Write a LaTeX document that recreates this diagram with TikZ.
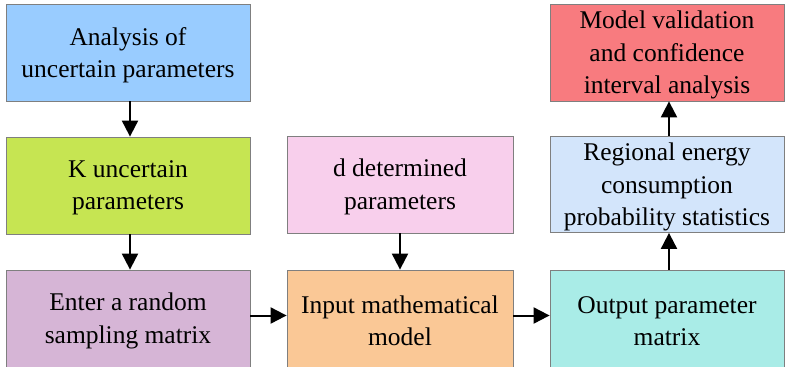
\documentclass[tikz,border=0pt]{standalone}
\usepackage{fontspec}
\setmainfont{Liberation Serif}
\usetikzlibrary{arrows.meta}
\definecolor{cA}{HTML}{99CCFF}
\definecolor{cB}{HTML}{C6E552}
\definecolor{cC}{HTML}{D6B5D6}
\definecolor{cD}{HTML}{F8CFEC}
\definecolor{cE}{HTML}{FAC896}
\definecolor{cF}{HTML}{A9ECE7}
\definecolor{cG}{HTML}{D3E5FB}
\definecolor{cH}{HTML}{F87B7F}
\definecolor{bord}{HTML}{7F7F7F}
\tikzset{
  box/.style={draw=bord, line width=0.8pt, inner sep=0pt},
  txt/.style={inner sep=0pt, align=center, yshift=-2.5pt,
    font=\rmfamily\fontsize{25.5}{32.5}\selectfont, text=black},
  flow/.style={line width=2pt, -{Triangle[length=16pt,width=16pt]}}
}
\begin{document}
\begin{tikzpicture}[x=1pt,y=-1pt]
\useasboundingbox (0,0) rectangle (785,367);
\node[box, fill=cA, minimum width=244pt, minimum height=97pt] (b1) at (128,52.5) {};
\node[box, fill=cB, minimum width=244pt, minimum height=97pt] (b2) at (128,185.5) {};
\node[box, fill=cC, minimum width=244pt, minimum height=97pt] (b3) at (128,318.5) {};
\node[box, fill=cD, minimum width=226pt, minimum height=97pt] (b4) at (400,184.5) {};
\node[box, fill=cE, minimum width=226pt, minimum height=97pt] (b5) at (400,318.5) {};
\node[box, fill=cF, minimum width=234pt, minimum height=97pt] (b6) at (667,318.5) {};
\node[box, fill=cG, minimum width=234pt, minimum height=96pt] (b7) at (667,184.5) {};
\node[box, fill=cH, minimum width=234pt, minimum height=97pt] (b8) at (667,52.5) {};
\node[txt] (t1) at (b1) {Analysis of\\uncertain parameters};
\node[txt] (t2) at (b2) {K uncertain\\parameters};
\node[txt] (t3) at (b3) {Enter a random\\sampling matrix};
\node[txt] (t4) at (b4) {d determined\\parameters};
\node[txt] (t5) at (b5) {Input mathematical\\model};
\node[txt] (t6) at (b6) {Output parameter\\matrix};
\node[txt] (t7) at (b7) {Regional energy\\consumption\\probability statistics};
\node[txt] (t8) at (b8) {Model validation\\and confidence\\interval analysis};
\draw[flow] ([xshift=2pt]b1.south) -- ([xshift=2pt]b2.north);
\draw[flow] ([xshift=2pt]b2.south) -- ([xshift=2pt]b3.north);
\draw[flow] (b4) -- (b5);
\draw[flow] ([yshift=3pt]b3.east) -- ([yshift=3pt]b5.west);
\draw[flow] ([yshift=3pt]b5.east) -- ([yshift=3pt]b6.west);
\draw[flow] ([xshift=2pt]b6.north) -- ([xshift=2pt]b7.south);
\draw[flow] ([xshift=2pt]b7.north) -- ([xshift=2pt]b8.south);
\end{tikzpicture}
\end{document}
